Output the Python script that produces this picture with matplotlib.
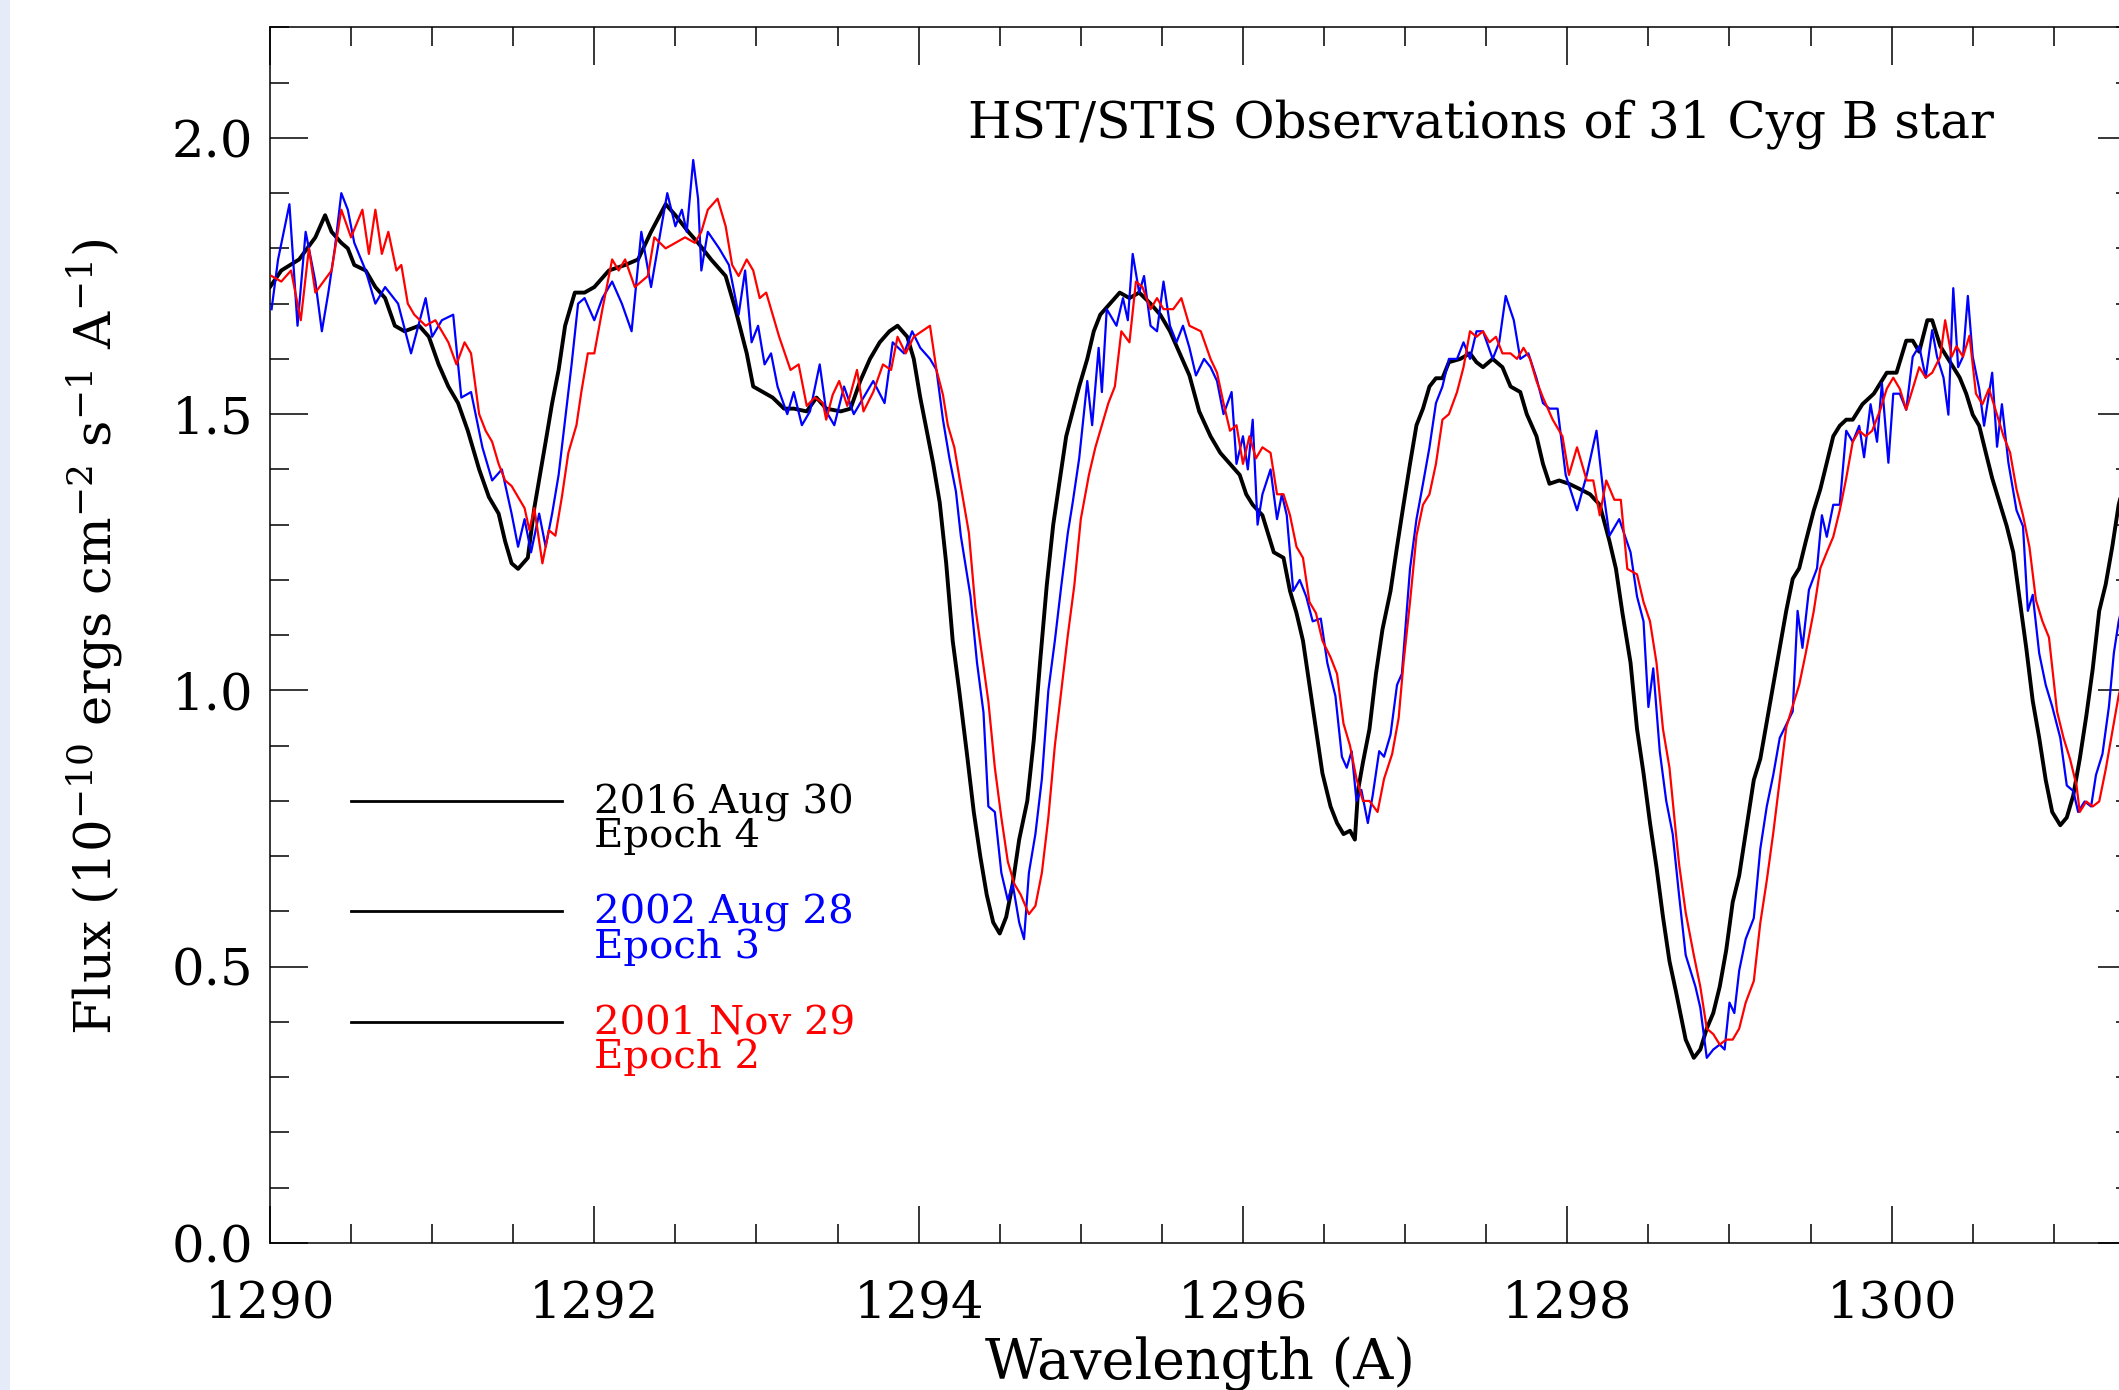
import matplotlib
matplotlib.use("Agg")
import matplotlib.pyplot as plt
from matplotlib.ticker import MultipleLocator, FormatStrFormatter
from matplotlib.patches import Rectangle

plt.rcParams["font.family"] = ["DejaVu Serif"]
plt.rcParams["mathtext.fontset"] = "dejavuserif"

# Epoch 4 (2016 Aug 30), black
wave_e4 = [
    1290.00, 1290.07, 1290.18, 1290.28, 1290.34, 1290.38, 1290.44, 1290.48, 1290.52, 1290.59,
    1290.65, 1290.71, 1290.77, 1290.83, 1290.92, 1290.98, 1291.04, 1291.10, 1291.16, 1291.22,
    1291.29, 1291.35, 1291.41, 1291.45, 1291.49, 1291.53, 1291.59, 1291.63, 1291.70, 1291.74,
    1291.78, 1291.82, 1291.88, 1291.94, 1292.00, 1292.09, 1292.19, 1292.27, 1292.35, 1292.44,
    1292.50, 1292.58, 1292.64, 1292.72, 1292.81, 1292.87,
    1292.94, 1292.98, 1293.04, 1293.10, 1293.17, 1293.23, 1293.31, 1293.37, 1293.43, 1293.52,
    1293.58, 1293.64, 1293.70, 1293.76, 1293.82, 1293.87, 1293.93, 1293.97, 1294.01, 1294.05,
    1294.09, 1294.13, 1294.17, 1294.21, 1294.25, 1294.30, 1294.34, 1294.38, 1294.42, 1294.46,
    1294.50, 1294.54, 1294.58, 1294.62, 1294.67, 1294.71, 1294.75, 1294.79, 1294.83, 1294.87,
    1294.91, 1294.95, 1294.99, 1295.04, 1295.08, 1295.12, 1295.18, 1295.24, 1295.30, 1295.36,
    1295.43, 1295.49, 1295.55, 1295.61, 1295.67, 1295.73, 1295.80,
    1295.86, 1295.92, 1295.98, 1296.02, 1296.06, 1296.12, 1296.19, 1296.25, 1296.29, 1296.33,
    1296.37, 1296.41, 1296.45, 1296.49, 1296.54, 1296.58, 1296.62, 1296.66, 1296.69, 1296.71,
    1296.74, 1296.78, 1296.82, 1296.86, 1296.91, 1296.95, 1296.99, 1297.03, 1297.07, 1297.11,
    1297.15, 1297.19, 1297.23, 1297.27, 1297.34, 1297.40, 1297.44, 1297.48, 1297.54, 1297.60,
    1297.65, 1297.71, 1297.75, 1297.81, 1297.85, 1297.89, 1297.95, 1298.01, 1298.08, 1298.14,
    1298.20, 1298.26, 1298.30, 1298.34, 1298.39, 1298.43, 1298.47, 1298.51, 1298.55, 1298.59,
    1298.63, 1298.67,
    1298.69, 1298.73, 1298.78, 1298.82, 1298.86, 1298.90, 1298.94, 1298.98, 1299.02, 1299.06,
    1299.10, 1299.15, 1299.19, 1299.23, 1299.27, 1299.31, 1299.35, 1299.39, 1299.43, 1299.47,
    1299.52, 1299.56, 1299.60, 1299.64, 1299.68, 1299.72, 1299.76, 1299.82, 1299.89, 1299.93,
    1299.97, 1300.03, 1300.09, 1300.13, 1300.17, 1300.22, 1300.25, 1300.30, 1300.34, 1300.38,
    1300.42, 1300.46, 1300.50, 1300.54, 1300.58, 1300.62, 1300.67, 1300.71, 1300.75, 1300.79,
    1300.83, 1300.87, 1300.91, 1300.95, 1300.99, 1301.04, 1301.08, 1301.12, 1301.16, 1301.20,
    1301.24, 1301.28, 1301.32, 1301.36, 1301.40, 1301.50,
]
flux_e4 = [
    1.73, 1.76, 1.78, 1.82, 1.86, 1.83, 1.81, 1.80, 1.77, 1.76,
    1.73, 1.71, 1.66, 1.65, 1.66, 1.64, 1.59, 1.55, 1.52, 1.47,
    1.40, 1.35, 1.32, 1.27, 1.23, 1.22, 1.24, 1.33, 1.45, 1.52,
    1.58, 1.66, 1.72, 1.72, 1.73, 1.76, 1.77, 1.78, 1.83, 1.88,
    1.86, 1.83, 1.81, 1.78, 1.75, 1.69,
    1.61, 1.55, 1.54, 1.53, 1.51, 1.51, 1.505, 1.53, 1.51, 1.505,
    1.51, 1.56, 1.60, 1.63, 1.65, 1.66, 1.64, 1.60, 1.53, 1.47,
    1.41, 1.34, 1.23, 1.09, 1.00, 0.88, 0.78, 0.70, 0.63, 0.58,
    0.56, 0.59, 0.65, 0.73, 0.80, 0.91, 1.055, 1.19, 1.30, 1.38,
    1.46, 1.505, 1.55, 1.60, 1.65, 1.68, 1.70, 1.72, 1.71, 1.72,
    1.70, 1.68, 1.65, 1.61, 1.57, 1.505, 1.46,
    1.43, 1.41, 1.39, 1.355, 1.336, 1.317, 1.25, 1.24, 1.18, 1.14,
    1.09, 1.01, 0.93, 0.85, 0.79, 0.76, 0.74, 0.746, 0.73, 0.82,
    0.87, 0.93, 1.03, 1.11, 1.18, 1.26, 1.336, 1.41, 1.48, 1.51,
    1.55, 1.565, 1.565, 1.594, 1.60, 1.61, 1.594, 1.585, 1.60, 1.585,
    1.55, 1.54, 1.50, 1.46, 1.41, 1.374, 1.38, 1.374, 1.364, 1.355,
    1.336, 1.27, 1.22, 1.14, 1.05, 0.93, 0.85, 0.76, 0.68, 0.59,
    0.51, 0.455,
    0.426, 0.368, 0.335, 0.35, 0.388, 0.416, 0.464, 0.53, 0.617, 0.665,
    0.742, 0.838, 0.876, 0.943, 1.01, 1.077, 1.144, 1.202, 1.221, 1.269,
    1.326, 1.364, 1.412, 1.46, 1.479, 1.49, 1.49, 1.518, 1.537, 1.556,
    1.575, 1.575, 1.633, 1.633, 1.613, 1.67, 1.67, 1.623, 1.604, 1.585,
    1.566, 1.537, 1.499, 1.479, 1.431, 1.384, 1.336, 1.297, 1.25, 1.163,
    1.077, 0.981, 0.914, 0.838, 0.78, 0.756, 0.77, 0.81, 0.876, 0.953,
    1.039, 1.144, 1.192, 1.259, 1.336, 1.45,
]

# Epoch 3 (2002 Aug 28), blue
wave_e3 = [
    1290.01, 1290.05, 1290.12, 1290.17, 1290.22, 1290.28, 1290.32, 1290.36, 1290.40, 1290.44,
    1290.48, 1290.52, 1290.59, 1290.65, 1290.71, 1290.79, 1290.87, 1290.96, 1291.00, 1291.06,
    1291.13, 1291.18, 1291.24, 1291.31, 1291.37, 1291.43, 1291.49, 1291.53, 1291.57, 1291.61,
    1291.66, 1291.70, 1291.74, 1291.78, 1291.82, 1291.86, 1291.90, 1291.94, 1292.00, 1292.05,
    1292.11, 1292.17, 1292.23, 1292.29, 1292.35, 1292.42, 1292.45, 1292.50, 1292.54, 1292.57,
    1292.61, 1292.64, 1292.66, 1292.70, 1292.77, 1292.83, 1292.89,
    1292.93, 1292.97, 1293.01, 1293.05, 1293.09, 1293.13, 1293.19, 1293.23, 1293.28, 1293.33,
    1293.39, 1293.43, 1293.48, 1293.54, 1293.60, 1293.66, 1293.72, 1293.79, 1293.84, 1293.91,
    1293.96, 1294.01, 1294.07, 1294.11, 1294.15, 1294.19, 1294.23, 1294.26, 1294.32, 1294.36,
    1294.40, 1294.43, 1294.47, 1294.51, 1294.55, 1294.58, 1294.62, 1294.65, 1294.68, 1294.72,
    1294.76, 1294.80, 1294.84, 1294.88, 1294.92, 1294.95, 1294.99, 1295.04, 1295.07, 1295.11,
    1295.13, 1295.16, 1295.22, 1295.26, 1295.29, 1295.32, 1295.36, 1295.39, 1295.43, 1295.47,
    1295.51, 1295.55, 1295.59, 1295.63, 1295.67, 1295.71, 1295.76,
    1295.80, 1295.84, 1295.88, 1295.93, 1295.96, 1296.00, 1296.03, 1296.06, 1296.09, 1296.12,
    1296.17, 1296.21, 1296.24, 1296.27, 1296.31, 1296.35, 1296.39, 1296.43, 1296.48, 1296.52,
    1296.57, 1296.61, 1296.64, 1296.67, 1296.70, 1296.73, 1296.77, 1296.80, 1296.84, 1296.87,
    1296.91, 1296.95, 1296.98, 1297.03, 1297.07, 1297.11, 1297.15, 1297.19, 1297.23, 1297.27,
    1297.32, 1297.36, 1297.40, 1297.44, 1297.48, 1297.54, 1297.58, 1297.62, 1297.67, 1297.71,
    1297.76, 1297.81, 1297.85, 1297.89, 1297.94, 1297.99, 1298.06, 1298.12, 1298.18, 1298.22,
    1298.26, 1298.32, 1298.39, 1298.43, 1298.47, 1298.50, 1298.53, 1298.57, 1298.61, 1298.65,
    1298.69, 1298.73, 1298.79, 1298.82, 1298.86, 1298.90, 1298.94, 1298.97, 1299.00, 1299.03,
    1299.06, 1299.10, 1299.15, 1299.19, 1299.23, 1299.27, 1299.31, 1299.35, 1299.39, 1299.42,
    1299.45, 1299.49, 1299.54, 1299.57, 1299.60, 1299.64, 1299.68, 1299.72, 1299.76, 1299.80,
    1299.83, 1299.87, 1299.91, 1299.94, 1299.98, 1300.01, 1300.05, 1300.09, 1300.13, 1300.17,
    1300.21, 1300.25, 1300.28, 1300.32, 1300.35, 1300.38, 1300.41, 1300.44, 1300.47, 1300.50,
    1300.54, 1300.57, 1300.62, 1300.65, 1300.68, 1300.72, 1300.77, 1300.81, 1300.84, 1300.87,
    1300.91, 1300.95, 1300.99, 1301.04, 1301.08, 1301.12, 1301.15, 1301.19, 1301.23, 1301.26,
    1301.30, 1301.34, 1301.37, 1301.40, 1301.50,
]
flux_e3 = [
    1.69, 1.78, 1.88, 1.66, 1.83, 1.74, 1.65, 1.72, 1.80, 1.90,
    1.87, 1.81, 1.76, 1.70, 1.73, 1.70, 1.61, 1.71, 1.64, 1.67,
    1.68, 1.53, 1.54, 1.44, 1.38, 1.40, 1.32, 1.26, 1.31, 1.25,
    1.32, 1.26, 1.32, 1.39, 1.49, 1.59, 1.70, 1.71, 1.67, 1.71,
    1.74, 1.70, 1.65, 1.83, 1.73, 1.85, 1.90, 1.84, 1.87, 1.83,
    1.96, 1.89, 1.76, 1.83, 1.80, 1.77, 1.68,
    1.76, 1.63, 1.66, 1.59, 1.61, 1.55, 1.50, 1.54, 1.48, 1.505,
    1.59, 1.505, 1.48, 1.55, 1.50, 1.53, 1.56, 1.52, 1.63, 1.61,
    1.65, 1.62, 1.60, 1.58, 1.49, 1.42, 1.36, 1.28, 1.17, 1.05,
    0.96, 0.79, 0.78, 0.67, 0.62, 0.65, 0.58, 0.55, 0.67, 0.74,
    0.84, 1.00, 1.09, 1.19, 1.285, 1.34, 1.42, 1.56, 1.48, 1.62,
    1.54, 1.69, 1.66, 1.71, 1.67, 1.79, 1.72, 1.75, 1.66, 1.65,
    1.74, 1.66, 1.63, 1.66, 1.62, 1.57, 1.60,
    1.585, 1.56, 1.50, 1.54, 1.41, 1.46, 1.40, 1.49, 1.30, 1.355,
    1.40, 1.31, 1.355, 1.317, 1.18, 1.20, 1.17, 1.125, 1.13, 1.05,
    0.99, 0.88, 0.86, 0.89, 0.80, 0.82, 0.76, 0.81, 0.89, 0.88,
    0.92, 1.01, 1.03, 1.22, 1.31, 1.374, 1.44, 1.52, 1.55, 1.60,
    1.60, 1.63, 1.60, 1.65, 1.65, 1.60, 1.63, 1.714, 1.67, 1.60,
    1.61, 1.565, 1.52, 1.51, 1.51, 1.39, 1.326, 1.39, 1.47, 1.364,
    1.28, 1.31, 1.25, 1.17, 1.125, 0.97, 1.04, 0.89, 0.80, 0.74,
    0.627, 0.521, 0.464, 0.426, 0.335, 0.35, 0.359, 0.35, 0.435, 0.416,
    0.493, 0.55, 0.588, 0.713, 0.79, 0.847, 0.914, 0.938, 0.962, 1.144,
    1.077, 1.182, 1.221, 1.317, 1.278, 1.336, 1.336, 1.47, 1.45, 1.479,
    1.422, 1.518, 1.45, 1.556, 1.412, 1.537, 1.537, 1.508, 1.604, 1.623,
    1.566, 1.652, 1.604, 1.566, 1.499, 1.728, 1.585, 1.604, 1.714, 1.604,
    1.546, 1.479, 1.575, 1.441, 1.518, 1.412, 1.326, 1.297, 1.144, 1.173,
    1.067, 1.01, 0.971, 0.914, 0.828, 0.818, 0.78, 0.799, 0.79, 0.847,
    0.885, 0.971, 1.067, 1.125, 1.25,
]

# Epoch 2 (2001 Nov 29), red
wave_e2 = [
    1290.01, 1290.07, 1290.13, 1290.19, 1290.24, 1290.28, 1290.33, 1290.38, 1290.44, 1290.50,
    1290.57, 1290.61, 1290.65, 1290.69, 1290.73, 1290.78, 1290.81, 1290.85, 1290.89, 1290.96,
    1291.02, 1291.06, 1291.10, 1291.15, 1291.20, 1291.24, 1291.29, 1291.33, 1291.37, 1291.41,
    1291.45, 1291.49, 1291.53, 1291.57, 1291.60, 1291.63, 1291.68, 1291.72, 1291.76, 1291.80,
    1291.84, 1291.89, 1291.92, 1291.96, 1292.00, 1292.05, 1292.11, 1292.15, 1292.19, 1292.25,
    1292.33, 1292.37, 1292.44, 1292.50, 1292.56, 1292.62, 1292.66, 1292.70, 1292.76, 1292.81,
    1292.85, 1292.89,
    1292.94, 1292.98, 1293.02, 1293.06, 1293.10, 1293.14, 1293.21, 1293.26, 1293.31, 1293.36,
    1293.41, 1293.43, 1293.47, 1293.51, 1293.56, 1293.62, 1293.66, 1293.72, 1293.78, 1293.83,
    1293.87, 1293.92, 1293.97, 1294.02, 1294.07, 1294.11, 1294.15, 1294.18, 1294.22, 1294.26,
    1294.31, 1294.35, 1294.39, 1294.43, 1294.47, 1294.51, 1294.55, 1294.59, 1294.63, 1294.68,
    1294.72, 1294.76, 1294.80, 1294.84, 1294.88, 1294.92, 1294.96, 1295.00, 1295.05, 1295.09,
    1295.13, 1295.17, 1295.21, 1295.25, 1295.30, 1295.34, 1295.38, 1295.43, 1295.47, 1295.51,
    1295.57, 1295.62, 1295.67, 1295.74,
    1295.80, 1295.84, 1295.88, 1295.92, 1295.96, 1296.00, 1296.04, 1296.08, 1296.12, 1296.17,
    1296.21, 1296.25, 1296.29, 1296.33, 1296.37, 1296.41, 1296.45, 1296.49, 1296.54, 1296.58,
    1296.62, 1296.66, 1296.70, 1296.74, 1296.78, 1296.83, 1296.87, 1296.92, 1296.96, 1296.99,
    1297.03, 1297.07, 1297.11, 1297.15, 1297.19, 1297.23, 1297.27, 1297.32, 1297.36, 1297.40,
    1297.44, 1297.48, 1297.52, 1297.56, 1297.60, 1297.65, 1297.69, 1297.73, 1297.77, 1297.81,
    1297.85, 1297.91, 1297.97, 1298.01, 1298.06, 1298.12, 1298.16, 1298.20, 1298.24, 1298.29,
    1298.33, 1298.37, 1298.43, 1298.47, 1298.51, 1298.55, 1298.59, 1298.63, 1298.67,
    1298.69, 1298.73, 1298.78, 1298.82, 1298.86, 1298.90, 1298.94, 1298.98, 1299.02, 1299.06,
    1299.10, 1299.15, 1299.19, 1299.23, 1299.27, 1299.31, 1299.35, 1299.39, 1299.43, 1299.47,
    1299.52, 1299.56, 1299.60, 1299.64, 1299.68, 1299.72, 1299.76, 1299.80, 1299.84, 1299.88,
    1299.93, 1299.97, 1300.01, 1300.05, 1300.09, 1300.13, 1300.17, 1300.21, 1300.25, 1300.30,
    1300.33, 1300.37, 1300.40, 1300.44, 1300.48, 1300.52, 1300.56, 1300.60, 1300.65, 1300.69,
    1300.73, 1300.77, 1300.81, 1300.85, 1300.89, 1300.93, 1300.97, 1301.02, 1301.06, 1301.10,
    1301.14, 1301.16, 1301.20, 1301.24, 1301.28, 1301.32, 1301.36, 1301.40, 1301.50,
]
flux_e2 = [
    1.75, 1.74, 1.76, 1.67, 1.80, 1.72, 1.74, 1.76, 1.87, 1.82,
    1.87, 1.79, 1.87, 1.79, 1.83, 1.76, 1.77, 1.70, 1.68, 1.66,
    1.67, 1.65, 1.63, 1.59, 1.63, 1.61, 1.50, 1.47, 1.45, 1.41,
    1.38, 1.37, 1.35, 1.33, 1.29, 1.33, 1.23, 1.29, 1.28, 1.35,
    1.43, 1.48, 1.54, 1.61, 1.61, 1.69, 1.78, 1.76, 1.78, 1.73,
    1.75, 1.82, 1.80, 1.81, 1.82, 1.81, 1.83, 1.87, 1.89, 1.84,
    1.77, 1.75,
    1.78, 1.76, 1.71, 1.72, 1.68, 1.64, 1.58, 1.59, 1.515, 1.53,
    1.52, 1.49, 1.535, 1.56, 1.515, 1.58, 1.505, 1.54, 1.59, 1.58,
    1.64, 1.61, 1.64, 1.65, 1.66, 1.58, 1.535, 1.48, 1.44, 1.37,
    1.285, 1.15, 1.065, 0.98, 0.86, 0.77, 0.69, 0.65, 0.63, 0.595,
    0.61, 0.67, 0.77, 0.90, 1.00, 1.10, 1.19, 1.31, 1.39, 1.44,
    1.48, 1.52, 1.55, 1.65, 1.63, 1.74, 1.73, 1.69, 1.71, 1.69,
    1.69, 1.71, 1.66, 1.65,
    1.60, 1.575, 1.52, 1.47, 1.48, 1.41, 1.46, 1.42, 1.44, 1.43,
    1.355, 1.355, 1.317, 1.26, 1.24, 1.16, 1.14, 1.09, 1.06, 1.03,
    0.94, 0.90, 0.84, 0.80, 0.80, 0.78, 0.84, 0.885, 0.95, 1.05,
    1.16, 1.28, 1.336, 1.355, 1.41, 1.49, 1.50, 1.54, 1.585, 1.65,
    1.64, 1.65, 1.63, 1.64, 1.61, 1.61, 1.60, 1.62, 1.60, 1.56,
    1.53, 1.49, 1.46, 1.39, 1.44, 1.38, 1.38, 1.317, 1.38, 1.345,
    1.345, 1.22, 1.21, 1.16, 1.125, 1.05, 0.93, 0.86, 0.74,
    0.684, 0.598, 0.521, 0.464, 0.388, 0.378, 0.359, 0.368, 0.368, 0.388,
    0.435, 0.474, 0.579, 0.656, 0.742, 0.838, 0.933, 0.972, 1.01, 1.067,
    1.144, 1.221, 1.25, 1.278, 1.326, 1.384, 1.45, 1.47, 1.46, 1.47,
    1.508, 1.546, 1.566, 1.546, 1.508, 1.546, 1.585, 1.566, 1.575, 1.604,
    1.67, 1.604, 1.623, 1.604, 1.642, 1.537, 1.518, 1.546, 1.499, 1.46,
    1.431, 1.364, 1.317, 1.259, 1.163, 1.125, 1.096, 0.962, 0.914, 0.876,
    0.828, 0.78, 0.799, 0.79, 0.799, 0.857, 0.924, 0.991, 1.10,
]

epoch_dates = ["2016 Aug 30", "2002 Aug 28", "2001 Nov 29"]
epoch_names = ["Epoch 4", "Epoch 3", "Epoch 2"]
epoch_colors = ["black", "blue", "red"]
key_levels = [0.8, 0.6, 0.4]

fig = plt.figure(figsize=(21.19, 13.90), dpi=100)
# thin light strip on the left edge, as in the original screenshot
fig.patches.append(Rectangle((0, 0), 10 / 2119, 1, transform=fig.transFigure,
                             facecolor="#e6ebfa", edgecolor="none"))

# axes runs slightly past the right edge of the picture
ax = fig.add_axes([0.1274, 0.1058, 0.8801, 0.8745])

ax.plot(wave_e4, flux_e4, color="black", lw=2.8, zorder=3)
ax.plot(wave_e3, flux_e3, color="blue", lw=1.6, zorder=4)
ax.plot(wave_e2, flux_e2, color="red", lw=1.6, zorder=5)

ax.set_xlim(1290, 1301.5)
ax.set_ylim(0, 2.2)

ax.xaxis.set_major_locator(MultipleLocator(2))
ax.xaxis.set_minor_locator(MultipleLocator(0.5))
ax.yaxis.set_major_locator(MultipleLocator(0.5))
ax.yaxis.set_minor_locator(MultipleLocator(0.1))
ax.yaxis.set_major_formatter(FormatStrFormatter("%.1f"))

ax.tick_params(which="both", direction="in", top=True, right=True, width=1.1)
ax.tick_params(which="major", length=27)
ax.tick_params(which="minor", length=14)
ax.tick_params(axis="x", which="major", labelsize=37, pad=26)
ax.tick_params(axis="y", which="major", labelsize=37, pad=12)
for s in ax.spines.values():
    s.set_linewidth(1.1)

# key: black bars with coloured two-line labels
for lev, date, name, col in zip(key_levels, epoch_dates, epoch_names, epoch_colors):
    ax.plot([1290.5, 1291.8], [lev, lev], color="black", lw=2)
    ax.text(1292.0, lev - 0.022, date, color=col, fontsize=29, va="baseline", ha="left")
    ax.text(1292.0, lev - 0.084, name, color=col, fontsize=29, va="baseline", ha="left")

ax.text(1297.47, 2.0, "HST/STIS Observations of 31 Cyg B star", fontsize=36,
        ha="center", va="baseline")

fig.text(1200 / 2119, 26 / 1390, "Wavelength (A)", fontsize=40, ha="center", va="center")
fig.text(95 / 2119, 753 / 1390,
         r"Flux (10$^{-10}$ ergs cm$^{-2}$ s$^{-1}$ A$^{-1}$)",
         fontsize=37, rotation=90, ha="center", va="center")

fig.savefig("out.png", dpi=100)
